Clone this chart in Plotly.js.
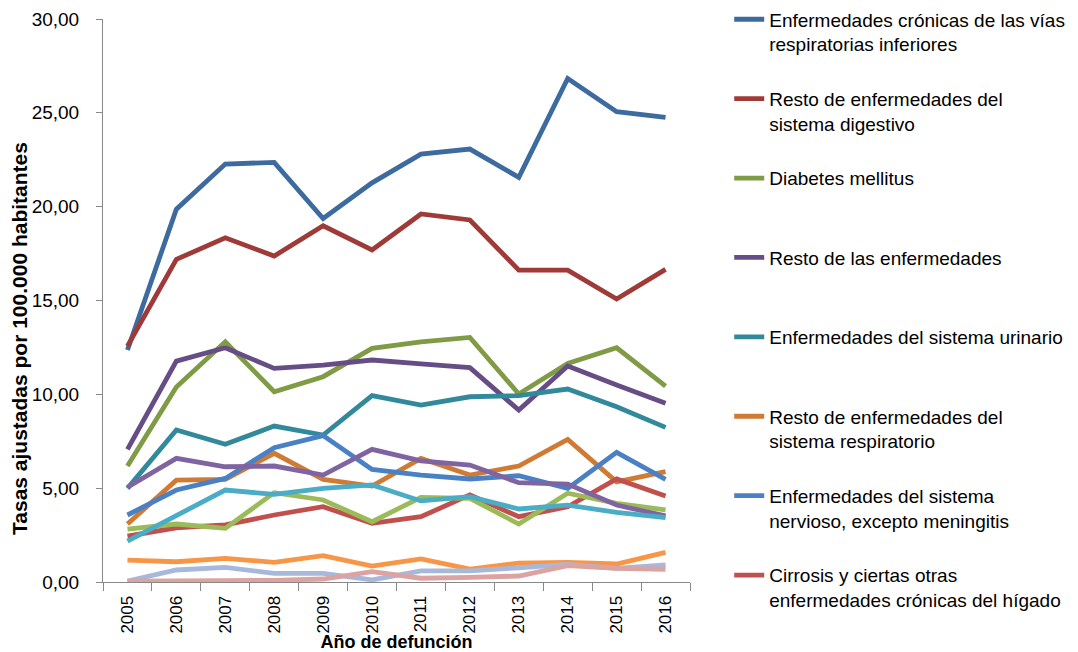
<!DOCTYPE html>
<html>
<head>
<meta charset="utf-8">
<script src="https://cdn.plot.ly/plotly-3.0.1.min.js"></script>
<style>
  html, body { margin: 0; padding: 0; background: #ffffff; }
  #chart { width: 1078px; height: 652px; }
</style>
</head>
<body>
<div id="chart"></div>
<script>
// Categories (years)
const years = ['2005','2006','2007','2008','2009','2010','2011','2012','2013','2014','2015','2016'];

// Series names (legend shows first 8 only, as in the reference)
const seriesNames = [
  'Enfermedades crónicas de las vías<br>respiratorias inferiores',
  'Resto de enfermedades del<br>sistema digestivo',
  'Diabetes mellitus',
  'Resto de las enfermedades',
  'Enfermedades del sistema urinario',
  'Resto de enfermedades del<br>sistema respiratorio',
  'Enfermedades del sistema<br>nervioso, excepto meningitis',
  'Cirrosis y ciertas otras<br>enfermedades crónicas del hígado',
  'Serie 9', 'Serie 10', 'Serie 11', 'Serie 12', 'Serie 13', 'Serie 14'
];

// Axis titles
const xTitle = 'Año de defunción';
const yTitle = 'Tasas ajustadas por 100.000 habitantes';

// Values (tasas ajustadas por 100.000 habitantes)
const cronicasViasResp   = [12.36, 19.87, 22.27, 22.36, 19.37, 21.27, 22.80, 23.07, 21.56, 26.83, 25.06, 24.76];
const restoDigestivo     = [12.57, 17.19, 18.34, 17.37, 18.98, 17.69, 19.61, 19.29, 16.62, 16.62, 15.08, 16.66];
const diabetes           = [6.18, 10.39, 12.80, 10.14, 10.94, 12.45, 12.80, 13.03, 10.02, 11.65, 12.48, 10.44];
const restoEnfermedades  = [7.07, 11.77, 12.48, 11.38, 11.56, 11.83, 11.62, 11.42, 9.16, 11.51, 10.50, 9.52];
const urinario           = [4.99, 8.10, 7.34, 8.31, 7.83, 9.93, 9.43, 9.87, 9.93, 10.28, 9.34, 8.24];
const restoRespiratorio  = [3.09, 5.43, 5.47, 6.86, 5.47, 5.11, 6.59, 5.70, 6.18, 7.60, 5.34, 5.88];
const nervioso           = [3.57, 4.90, 5.52, 7.16, 7.80, 6.00, 5.70, 5.49, 5.66, 4.99, 6.91, 5.47];
const cirrosis           = [2.45, 2.89, 3.04, 3.57, 4.01, 3.13, 3.48, 4.64, 3.48, 4.01, 5.49, 4.58];
const serie9             = [2.82, 3.09, 2.86, 4.76, 4.37, 3.21, 4.51, 4.46, 3.09, 4.73, 4.19, 3.84];
const serie10            = [5.05, 6.59, 6.14, 6.18, 5.70, 7.07, 6.46, 6.23, 5.29, 5.22, 4.10, 3.52];
const serie11            = [2.18, 3.52, 4.90, 4.67, 4.99, 5.17, 4.32, 4.55, 3.89, 4.10, 3.71, 3.43];
const serie12            = [1.17, 1.08, 1.26, 1.05, 1.40, 0.85, 1.23, 0.69, 1.00, 1.05, 0.96, 1.58];
const serie13            = [0.05, 0.64, 0.78, 0.46, 0.46, 0.11, 0.59, 0.59, 0.76, 0.94, 0.73, 0.91];
const serie14            = [0.05, 0.04, 0.07, 0.09, 0.16, 0.55, 0.20, 0.25, 0.32, 0.87, 0.73, 0.68];

const allValues = [cronicasViasResp, restoDigestivo, diabetes, restoEnfermedades, urinario,
  restoRespiratorio, nervioso, cirrosis, serie9, serie10, serie11, serie12, serie13, serie14];

const colors = ['#3D6B9F', '#9E3B38', '#7F9B45', '#674D85', '#33899C', '#CF7B34',
  '#4A80C4', '#C0504D', '#9BBB59', '#8064A2', '#4BACC6', '#F79646', '#A7B9DA', '#DBA3A1'];

const traces = allValues.map((vals, i) => ({
  type: 'scatter',
  mode: 'lines',
  x: years,
  y: vals,
  name: (i < 8 && seriesNames[i].indexOf('<br>') < 0) ? seriesNames[i] + '<br> ' : seriesNames[i],
  legendgroup: 'g' + i,
  showlegend: i < 8,
  line: { color: colors[i], width: 4.8 },
  hoverinfo: 'x+y'
}));

const font = 'Liberation Sans, Arial, sans-serif';

const layout = {
  width: 1078,
  height: 652,
  margin: { l: 103, r: 388, t: 19, b: 70, pad: 0, autoexpand: false },
  paper_bgcolor: '#ffffff',
  plot_bgcolor: '#ffffff',
  separators: ',.',
  font: { family: font, color: '#000000', size: 18 },
  showlegend: true,
  legend: {
    x: 1.0668, xanchor: 'left',
    y: 1.033, yanchor: 'top',
    valign: 'top',
    maxheight: 652,
    font: { family: font, size: 19, color: '#000000' },
    tracegroupgap: 27,
    bgcolor: 'rgba(0,0,0,0)',
    borderwidth: 0
  },
  xaxis: {
    type: 'category',
    range: [-0.5, 11.5],
    tickson: 'boundaries',
    ticks: 'outside',
    ticklen: 8,
    tickwidth: 1,
    tickcolor: '#888888',
    showline: true,
    linecolor: '#888888',
    linewidth: 1,
    showgrid: false,
    zeroline: false,
    tickangle: -90,
    ticklabelstandoff: 6,
    tickfont: { family: font, size: 17, color: '#000000' },
    title: { text: xTitle, font: { family: font, size: 18, color: '#000000', weight: 'bold' }, standoff: 0 },
    automargin: false,
    fixedrange: true
  },
  yaxis: {
    range: [0, 30],
    dtick: 5,
    tick0: 0,
    tickformat: '.2f',
    ticks: 'outside',
    ticklen: 6,
    tickwidth: 1,
    tickcolor: '#888888',
    showline: true,
    linecolor: '#888888',
    linewidth: 1,
    showgrid: false,
    zeroline: false,
    tickfont: { family: font, size: 19, color: '#000000' },
    ticklabelstandoff: 13,
    title: { text: '' },
    automargin: false,
    fixedrange: true
  },
  annotations: [{
    text: yTitle,
    xref: 'paper', yref: 'paper',
    x: (19 - 103) / 587, y: (582 - 339) / 563,
    xanchor: 'center', yanchor: 'middle',
    textangle: -90,
    showarrow: false,
    font: { family: font, size: 21, color: '#000000', weight: 'bold' }
  }]
};

Plotly.newPlot('chart', traces, layout, { displayModeBar: false, staticPlot: true });
</script>
</body>
</html>
